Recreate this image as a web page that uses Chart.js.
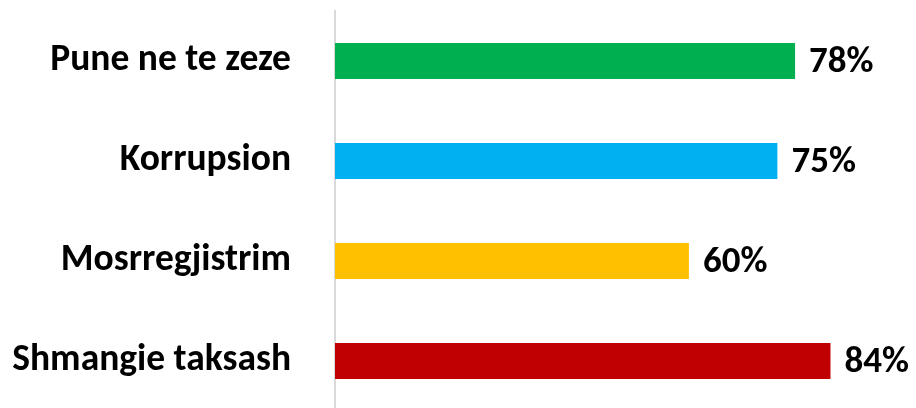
<!DOCTYPE html>
<html>
<head>
<meta charset="utf-8">
<script src="https://cdn.jsdelivr.net/npm/chart.js@4.4.0/dist/chart.umd.min.js"></script>
<style>
    html, body { margin: 0; padding: 0; background: #fff; overflow: hidden; }
    canvas { display: block; }
</style>
</head>
<body>
<canvas id="grafiku" width="916" height="411"></canvas>
<script>
const kategorite = ['Pune ne te zeze', 'Korrupsion', 'Mosrregjistrim', 'Shmangie taksash'];
const vlerat = [78, 75, 60, 84];
const ngjyrat = ['#00B050', '#00B0F0', '#FFC000', '#C00000'];

const FONTI = 'Calibri, Carlito, Lato, sans-serif';

// vendos perqindjet ne fund te cdo shtylle
const etiketat = {
    id: 'etiketat',
    afterDatasetsDraw(chart) {
        const ctx = chart.ctx;
        const meta = chart.getDatasetMeta(0);
        ctx.save();
        ctx.font = 'bold 37px ' + FONTI;
        ctx.fillStyle = '#000';
        ctx.textAlign = 'left';
        ctx.textBaseline = 'middle';
        meta.data.forEach(function (bar, i) {
            ctx.fillText(vlerat[i] + '%', bar.x + 14, bar.y + 2);
        });
        ctx.restore();
    }
};

const config = {
    type: 'bar',
    data: {
        labels: kategorite,
        datasets: [{
            data: vlerat,
            backgroundColor: ngjyrat,
            borderWidth: 0,
            categoryPercentage: 0.36,
            barPercentage: 1
        }]
    },
    options: {
        indexAxis: 'y',
        responsive: false,
        animation: false,
        layout: { padding: { top: 11, right: 0, bottom: 0, left: 0 } },
        plugins: {
            legend: { display: false },
            tooltip: { enabled: false }
        },
        scales: {
            x: {
                display: false,
                min: 0,
                max: 98.5
            },
            y: {
                afterFit: function (axis) {
                    axis.width = 335;
                    // padding i etiketave nuk duhet te ngushtoje zonen e grafikut
                    axis.paddingTop = 0;
                    axis.paddingBottom = 0;
                },
                grid: { drawOnChartArea: false, drawTicks: false },
                border: { color: '#d9d9d9', width: 2 },
                ticks: {
                    padding: 44,
                    color: '#000',
                    font: { family: FONTI, size: 37.5, weight: 'bold' }
                }
            }
        }
    },
    plugins: [etiketat]
};

new Chart(document.getElementById('grafiku'), config);
</script>
</body>
</html>
